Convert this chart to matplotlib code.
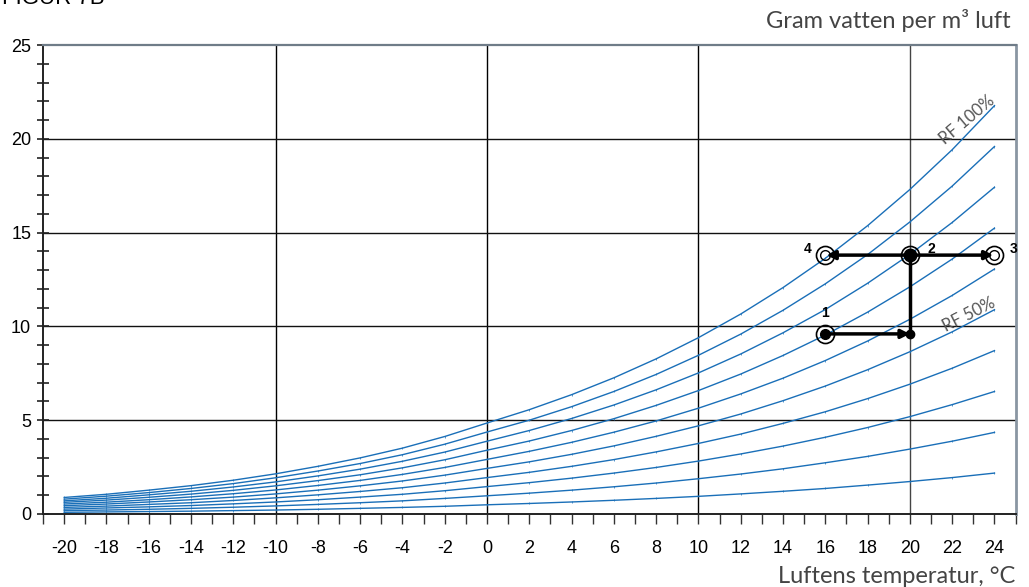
import matplotlib.pyplot as plt
from matplotlib.ticker import MultipleLocator

plt.rcParams["axes.unicode_minus"] = False

# temperatur (°C) och mättad ånghalt (g/m3)
temps = [-20, -18, -16, -14, -12, -10, -8, -6, -4, -2, 0, 2, 4, 6, 8,
         10, 12, 14, 16, 18, 20, 22, 24]

rf100 = [0.88, 1.05, 1.27, 1.51, 1.80, 2.14, 2.54, 2.99, 3.51, 4.13, 4.85, 5.56,
         6.36, 7.26, 8.27, 9.40, 10.66, 12.07, 13.63, 15.37, 17.30, 19.42, 21.77]
rf90 = [0.79, 0.95, 1.14, 1.36, 1.62, 1.93, 2.29, 2.69, 3.16, 3.72, 4.37, 5.00,
        5.72, 6.53, 7.44, 8.46, 9.59, 10.86, 12.27, 13.83, 15.57, 17.48, 19.59]
rf80 = [0.70, 0.84, 1.02, 1.21, 1.44, 1.71, 2.03, 2.39, 2.81, 3.30, 3.88, 4.45,
        5.09, 5.81, 6.62, 7.52, 8.53, 9.66, 10.90, 12.30, 13.84, 15.54, 17.42]
rf70 = [0.62, 0.74, 0.89, 1.06, 1.26, 1.50, 1.78, 2.09, 2.46, 2.89, 3.40, 3.89,
        4.45, 5.08, 5.79, 6.58, 7.46, 8.45, 9.54, 10.76, 12.11, 13.59, 15.24]
rf60 = [0.53, 0.63, 0.76, 0.91, 1.08, 1.28, 1.52, 1.79, 2.11, 2.48, 2.91, 3.34,
        3.82, 4.36, 4.96, 5.64, 6.40, 7.24, 8.18, 9.22, 10.38, 11.65, 13.06]
rf50 = [0.44, 0.53, 0.64, 0.76, 0.90, 1.07, 1.27, 1.50, 1.76, 2.07, 2.43, 2.78,
        3.18, 3.63, 4.14, 4.70, 5.33, 6.04, 6.82, 7.69, 8.65, 9.71, 10.89]
rf40 = [0.35, 0.42, 0.51, 0.60, 0.72, 0.86, 1.02, 1.20, 1.40, 1.65, 1.94, 2.22,
        2.54, 2.90, 3.31, 3.76, 4.26, 4.83, 5.45, 6.15, 6.92, 7.77, 8.71]
rf30 = [0.26, 0.32, 0.38, 0.45, 0.54, 0.64, 0.76, 0.90, 1.05, 1.24, 1.46, 1.67,
        1.91, 2.18, 2.48, 2.82, 3.20, 3.62, 4.09, 4.61, 5.19, 5.83, 6.53]
rf20 = [0.18, 0.21, 0.25, 0.30, 0.36, 0.43, 0.51, 0.60, 0.70, 0.83, 0.97, 1.11,
        1.27, 1.45, 1.65, 1.88, 2.13, 2.41, 2.73, 3.07, 3.46, 3.88, 4.35]
rf10 = [0.09, 0.11, 0.13, 0.15, 0.18, 0.21, 0.25, 0.30, 0.35, 0.41, 0.49, 0.56,
        0.64, 0.73, 0.83, 0.94, 1.07, 1.21, 1.36, 1.54, 1.73, 1.94, 2.18]
curves = [rf100, rf90, rf80, rf70, rf60, rf50, rf40, rf30, rf20, rf10]

# punkter i exemplet
p1 = (16, 9.6)
p1b = (20, 9.6)
p2 = (20, 13.8)
p3 = (24, 13.8)
p4 = (16, 13.8)

fig = plt.figure(figsize=(10.29, 5.87), dpi=100)
ax = fig.add_axes([0.0418, 0.1244, 0.9452, 0.7989])

blue = "#1a6fb8"
for c in curves:
    ax.plot(temps, c, color=blue, lw=1.0, marker="|", ms=2, mew=0.5)

ax.set_xlim(-21, 25)
ax.set_ylim(0, 25)

for x in [-10, 0, 10, 20]:
    ax.axvline(x, color="black" if x != 20 else "#444444", lw=1.0, zorder=1)
for y in [5, 10, 15, 20]:
    ax.axhline(y, color="#111111", lw=1.0, zorder=1)

ax.spines["top"].set_color("#6f7c88")
ax.spines["top"].set_linewidth(1.6)
ax.spines["right"].set_color("#8a96a2")
ax.spines["right"].set_linewidth(2.0)
ax.spines["left"].set_color("#222222")
ax.spines["left"].set_linewidth(1.4)
ax.spines["bottom"].set_color("#222222")
ax.spines["bottom"].set_linewidth(1.4)

ax.set_xticks(range(-20, 25, 2))
ax.xaxis.set_minor_locator(MultipleLocator(1))
ax.yaxis.set_major_locator(MultipleLocator(5))
ax.yaxis.set_minor_locator(MultipleLocator(1))
ax.tick_params(axis="x", which="both", direction="out", length=7, width=1,
               color="#333333", labelsize=13, pad=12)
ax.tick_params(axis="y", which="both", direction="inout", length=9, width=1.2,
               color="#222222", labelsize=13, pad=4)
for lab in ax.get_xticklabels() + ax.get_yticklabels():
    lab.set_fontfamily("Liberation Sans")

# pilar och punkter
ax.plot([p1b[0], p2[0]], [p1b[1], p2[1]], color="black", lw=2.5, zorder=4)
arrow = dict(arrowstyle="-|>,head_length=0.5,head_width=0.25", color="black",
             lw=2.5, shrinkA=0, shrinkB=0)
ax.annotate("", xy=p1b, xytext=p1, arrowprops=arrow, zorder=5)
ax.annotate("", xy=(p3[0] - 0.05, p3[1]), xytext=p2, arrowprops=arrow, zorder=5)
ax.annotate("", xy=(p4[0] + 0.05, p4[1]), xytext=p2, arrowprops=arrow, zorder=5)

for p in [p1, p2, p3, p4]:
    ax.plot(*p, marker="o", ms=13, mfc="none", mec="black", mew=1.2, zorder=6)
for p in [p3, p4]:
    ax.plot(*p, marker="o", ms=7, mfc="none", mec="black", mew=1.0, zorder=6)
ax.plot(*p1, marker="o", ms=7, color="black", zorder=7)
ax.plot(*p2, marker="o", ms=9, color="black", zorder=7)
ax.plot(*p1b, marker="o", ms=6, color="black", zorder=7)

num = dict(fontsize=10, fontweight="bold", family="Liberation Sans")
ax.text(p1[0], p1[1] + 0.75, "1", ha="center", va="bottom", **num)
ax.text(p2[0] + 1.0, p2[1] + 0.35, "2", ha="center", va="center", **num)
ax.text(p3[0] + 0.9, p3[1] + 0.35, "3", ha="center", va="center", **num)
ax.text(p4[0] - 0.85, p4[1] + 0.35, "4", ha="center", va="center", **num)

ax.text(22.7, 21.0, "RF 100%", rotation=40, ha="center", va="center",
        fontsize=12, color="#555555", family="Lato")
ax.text(22.8, 10.6, "RF 50%", rotation=27, ha="center", va="center",
        fontsize=12, color="#555555", family="Lato")

fig.text(0.982, 0.965, "Gram vatten per m³ luft", ha="right", va="center",
         fontsize=17, color="#444444", family="Lato")
fig.text(0.987, 0.018, "Luftens temperatur, °C", ha="right", va="center",
         fontsize=17, color="#444444", family="Lato")
fig.text(0.002, 1 - 4 / 587, "FIGUR 7B", ha="left", va="baseline",
         fontsize=16, color="black", family="Liberation Sans")

fig.savefig("out.png", dpi=100)
